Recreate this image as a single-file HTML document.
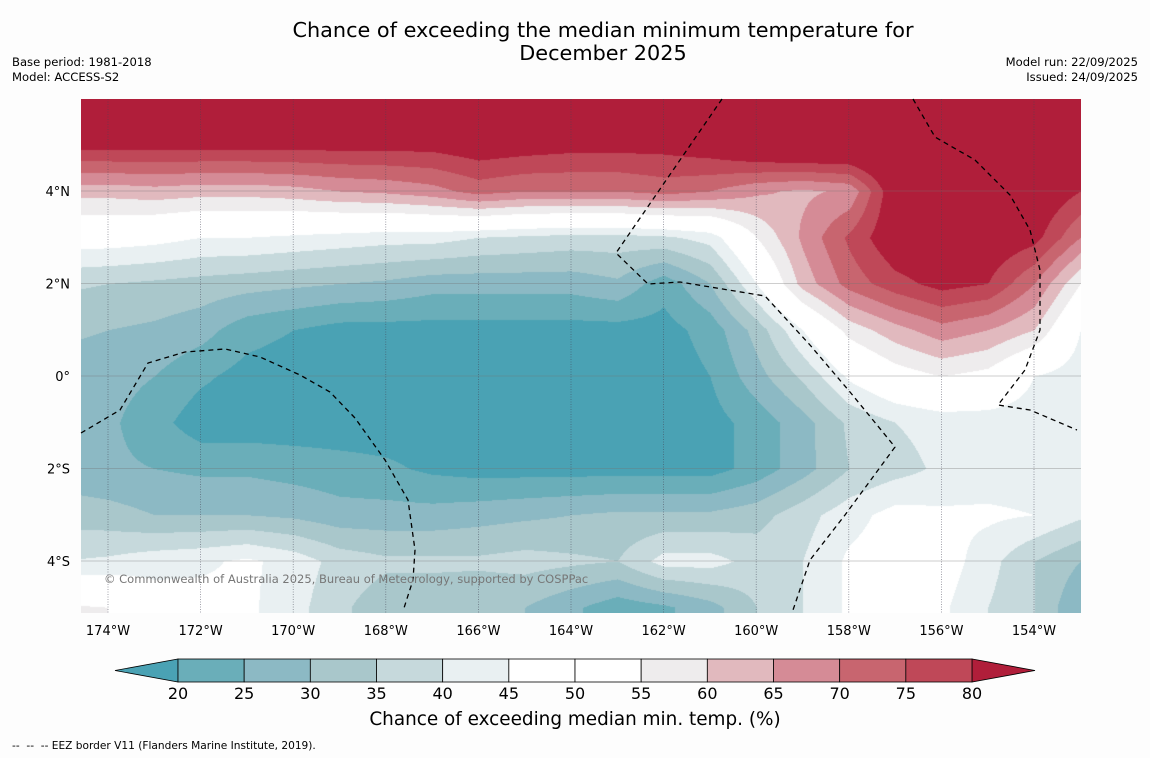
<!DOCTYPE html>
<html><head><meta charset="utf-8">
<style>
body{margin:0;background:#fdfdfd;font-family:"DejaVu Sans",sans-serif;}
#wrap{position:relative;width:1150px;height:758px;overflow:hidden;background:#fdfdfd;}
.t{position:absolute;color:#000;white-space:nowrap;}
canvas{position:absolute;left:81px;top:99px;}
svg{position:absolute;left:0;top:0;}
</style></head><body>
<div id="wrap">
<div class="t" style="left:0;width:1206px;top:19px;text-align:center;font-size:20.8px;line-height:23px;">Chance of exceeding the median minimum temperature for<br>December 2025</div>
<div class="t" style="left:12px;top:55px;font-size:11.6px;line-height:15px;">Base period: 1981-2018<br>Model: ACCESS-S2</div>
<div class="t" style="right:12px;top:55px;font-size:11.6px;line-height:15px;text-align:right;">Model run: 22/09/2025<br>Issued: 24/09/2025</div>
<canvas id="map" width="1000" height="514"></canvas>
<svg id="ov" width="1150" height="758"></svg>
<div class="t" style="left:104px;top:572px;font-size:11.5px;color:#777;">© Commonwealth of Australia 2025, Bureau of Meteorology, supported by COSPPac</div>
<div class="t" style="left:0;width:1150px;top:709px;text-align:center;font-size:18.4px;">Chance of exceeding median min. temp. (%)</div>
<div class="t" style="left:12px;top:740px;font-size:10.6px;">--&nbsp; --&nbsp; -- EEZ border V11 (Flanders Marine Institute, 2019).</div>
</div>
<script>
const lats=[6,5,4,3,2,1,0,-1,-2,-3,-4,-5];
const lons=[-175,-174,-173,-172,-171,-170,-169,-168,-167,-166,-165,-164,-163,-162,-161,-160,-159,-158,-157,-156,-155,-154,-153];
const row6=[90,90,90,90,90,90,90,90,90,90,90,90,90,90,90,90,90,90,90,90,90,90,90];
const row5=[82,82,82,82,82,82,82,82,82,84,83,82,82,82,84,88,90,90,90,90,90,90,90];
const row4=[62,62,63,62,62,63,65,66,68,72,70,70,70,72,70,66,64,66,85,88,88,86,80];
const row3=[48,48,47,45,45,44,43,42,42,40,39,38,38,39,42,55,66,76,85,86,85,82,70];
const row2=[36,35,34,33,32,31,30,29,27,27,27,27,29,22,30,45,62,72,78,82,80,70,55];
const row1=[31,30,29,27,22,20,18,18,18,18,18,18,18,18,22,32,45,57,63,68,65,60,45];
const row0=[28,27,25,21,18,17,17,17,17,17,17,17,17,17,20,28,36,46,52,55,53,45,42];
const rowS1=[27,26,22,17,17,17,17,17,17,17,17,17,17,17,18,22,28,36,40,42,42,42,40];
const rowS2=[27,26,25,24,24,23,22,21,19,18,18,18,18,18,18,22,28,35,38,41,42,42,42];
const rowS3=[33,32,30,30,30,29,27,27,27,28,29,30,31,31,31,33,38,43,47,46,46,45,41];
const rowS4=[40,41,43,44,46,43,38,36,36,36,37,36,35,42,42,38,40,46,48,48,42,35,30];
const rowS5=[56,55,48,47,46,42,36,32,32,31,30,26,22,24,28,35,40,46,46,46,40,35,25];
const grid=[row6,row5,row4,row3,row2,row1,row0,rowS1,rowS2,rowS3,rowS4,rowS5];
const levels=[20,25,30,35,40,45,50,55,60,65,70,75,80];
const colors=["#4aa2b4","#6aaeb9","#8cb9c4","#a9c7cb","#c6d9dc","#e9f0f2","#ffffff","#ffffff","#eeeced","#e1b9be","#d58b96","#c8656f","#bf4858","#b01e3a"];
const levelLabels=["20","25","30","35","40","45","50","55","60","65","70","75","80"];
const lonTicks=[-174,-172,-170,-168,-166,-164,-162,-160,-158,-156,-154];
const latTicks=[4,2,0,-2,-4];

const X0=81,Y0=99,W=1000,H=514;
const xOf=lon=>108+(lon+174)*46.3;
const yOf=lat=>376-lat*46.25;
function binIdx(v){let i=0;while(i<levels.length&&v>=levels[i])i++;return i;}
function hex(c){return [parseInt(c.slice(1,3),16),parseInt(c.slice(3,5),16),parseInt(c.slice(5,7),16)];}
const rgb=colors.map(hex);
function val(lat,lon){
  let r=(lats[0]-lat)/(lats[0]-lats[1]);let c=(lon-lons[0])/(lons[1]-lons[0]);
  r=Math.max(0,Math.min(lats.length-1.001,r));c=Math.max(0,Math.min(lons.length-1.001,c));
  const r0=Math.floor(r),c0=Math.floor(c),fr=r-r0,fc=c-c0;
  const a=grid[r0][c0],b=grid[r0][c0+1],d=grid[r0+1][c0],e=grid[r0+1][c0+1];
  return (a*(1-fc)+b*fc)*(1-fr)+(d*(1-fc)+e*fc)*fr;
}
const cv=document.getElementById('map');const ctx=cv.getContext('2d');
const img=ctx.createImageData(W,H);
for(let py=0;py<H;py++){const lat=(376-(py+Y0))/46.25;
  for(let px=0;px<W;px++){const lon=-174+((px+X0)-108)/46.3;
    const k=rgb[binIdx(val(lat,lon))];const o=(py*W+px)*4;
    img.data[o]=k[0];img.data[o+1]=k[1];img.data[o+2]=k[2];img.data[o+3]=255;}}
ctx.putImageData(img,0,0);

const NS='http://www.w3.org/2000/svg';const ov=document.getElementById('ov');
function mk(tag,attrs,parent){const el=document.createElementNS(NS,tag);for(const k in attrs)el.setAttribute(k,attrs[k]);(parent||ov).appendChild(el);return el;}
lonTicks.forEach(l=>{const x=xOf(l);
  const g=mk('line',{x1:x,y1:Y0,x2:x,y2:Y0+H,stroke:'#445',"stroke-width":0.7,"stroke-dasharray":"1,1.5",opacity:0.7});
  
  
  const t=mk('text',{x:x,y:635,"text-anchor":"middle","font-size":13,"font-family":"DejaVu Sans, sans-serif"});
  t.textContent=Math.abs(l)+'°W';
  
  
});
latTicks.forEach(l=>{const y=yOf(l);
  const g=mk('line',{x1:X0,y1:y,x2:X0+W,y2:y,stroke:'#777',"stroke-width":0.6,opacity:0.7});
  
  
  const t=mk('text',{x:70,y:y+5,"text-anchor":"end","font-size":13,"font-family":"DejaVu Sans, sans-serif"});
  t.textContent=l===0?'0°':Math.abs(l)+'°'+(l>0?'N':'S');
  
  
});
const eez=["M722,99 L616,253 L648,284 L680,282 L765,296 L810,345 L850,392 L895,447 L845,515 L810,560 L793,610",
"M913,99 L935,137 L975,160 L1010,195 L1030,230 L1040,270 L1040,330 L1025,370 L998,405 L1030,410 L1077,430",
"M81,433 L120,410 L148,363 L185,352 L225,349 L260,357 L300,375 L330,392 L355,418 L385,460 L408,500 L415,550 L413,580 L404,608"];
eez.forEach(d=>{const p=mk('path',{d:d,fill:'none',stroke:'#000',"stroke-width":1.3,"stroke-dasharray":"5,4"});
  
  });
const cbX=178,cbW=794,cbY=659,cbH=23,seg=cbW/(levels.length-1);
const lt=mk('polygon',{points:`115,670.5 ${cbX},${cbY} ${cbX},${cbY+cbH}`,fill:colors[0],stroke:'#000',"stroke-width":0.8});


const rt=mk('polygon',{points:`1035,670.5 ${cbX+cbW},${cbY} ${cbX+cbW},${cbY+cbH}`,fill:colors[colors.length-1],stroke:'#000',"stroke-width":0.8});


for(let i=0;i<levels.length-1;i++){
  const r=mk('rect',{x:cbX+i*seg,y:cbY,width:seg,height:cbH,fill:colors[i+1],stroke:'#000',"stroke-width":0.8});
  
  
}
levelLabels.forEach((s,i)=>{const t=mk('text',{x:cbX+i*seg,y:699,"text-anchor":"middle","font-size":16,"font-family":"DejaVu Sans, sans-serif"});
  t.textContent=s;
  
  });
</script>
</body></html>
